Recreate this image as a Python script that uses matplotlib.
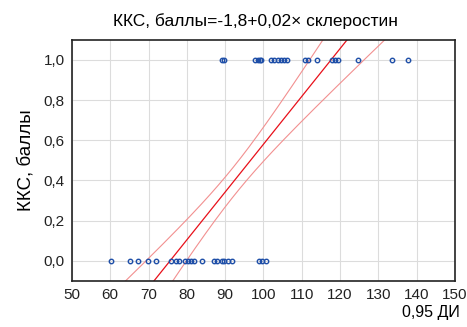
import numpy as np
import matplotlib
matplotlib.use("Agg")
import matplotlib.pyplot as plt

plt.rcParams['font.family'] = ['Liberation Sans', 'DejaVu Sans']

# sclerostin values for KKS = 0 and KKS = 1
x0 = [60.1, 65.1, 67.2, 69.9, 71.9, 75.8, 77.3, 78.0, 79.5, 80.4, 81.0, 81.9,
      83.9, 87.1, 87.8, 89.1, 89.8, 90.8, 91.7, 98.8, 99.7, 100.6]
x1 = [89.1, 89.7, 97.8, 98.5, 99.1, 99.5, 102.0, 102.8, 103.7, 104.6, 105.4,
      106.2, 110.8, 111.7, 113.9, 117.8, 118.7, 119.5, 124.8, 133.7, 137.8]

# regression as reported
intercept = -1.80
slope = 0.0238
n_obs = 43
x_mean = 92.4
resid_sd = 0.237
sxx = 7160.0
t_crit = 2.02

xticks = [50, 60, 70, 80, 90, 100, 110, 120, 130, 140, 150]
yticks = [0.0, 0.2, 0.4, 0.6, 0.8, 1.0]
ytick_labels = ['0,0', '0,2', '0,4', '0,6', '0,8', '1,0']

x = np.array(x0 + x1)
y = np.array([0] * len(x0) + [1] * len(x1))

xx = np.linspace(40, 160, 300)
yy = intercept + slope * xx
se = resid_sd * np.sqrt(1 / n_obs + (xx - x_mean) ** 2 / sxx)
lo = yy - t_crit * se
hi = yy + t_crit * se

fig = plt.figure(figsize=(4.67, 3.27), dpi=100)
ax = fig.add_axes([0.154, 0.141, 0.820, 0.737])

ax.plot(xx, yy, color='#e8101a', lw=0.9)
ax.plot(xx, lo, color='#f29090', lw=0.8)
ax.plot(xx, hi, color='#f29090', lw=0.8)
ax.plot(x, y, linestyle='', marker='o', ms=3.2, mfc='none', mec='#1f4fa8', mew=1.0)

ax.set_xlim(50, 150)
ax.set_ylim(-0.1, 1.1)
ax.set_xticks(xticks)
ax.set_yticks(yticks)
ax.set_yticklabels(ytick_labels)
ax.grid(True, color='#dcdcdc', lw=0.8)
ax.set_axisbelow(True)
ax.tick_params(length=0, labelsize=11, pad=5, colors='#222222')
for sp in ax.spines.values():
    sp.set_color('#222222')
    sp.set_linewidth(1.2)

ax.set_title('ККС, баллы=-1,8+0,02× склеростин', fontsize=12.5, pad=10, x=0.48)
ax.set_ylabel('ККС, баллы', fontsize=13.5, labelpad=7)
fig.text(0.985, 0.02, '0,95 ДИ', ha='right', va='bottom', fontsize=11.5)

fig.savefig('out.png', dpi=100)
